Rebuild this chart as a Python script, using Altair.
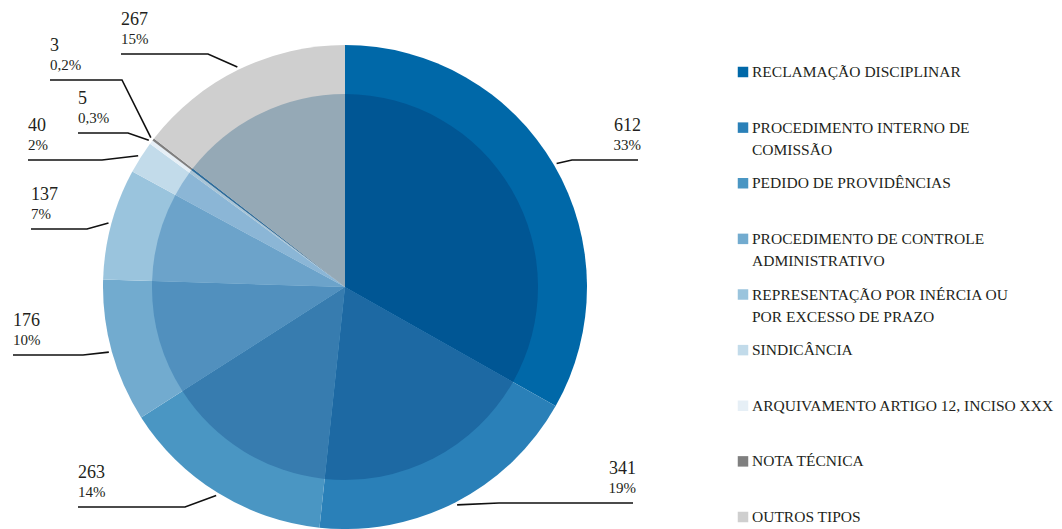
import math
import altair as alt
import pandas as pd

# ---------------- data ----------------
CATEGORIES = [
    "Reclamação Disciplinar",
    "Procedimento Interno de Comissão",
    "Pedido de Providências",
    "Procedimento de Controle Administrativo",
    "Representação por Inércia ou por Excesso de Prazo",
    "Sindicância",
    "Arquivamento Artigo 12, Inciso XXX",
    "Nota Técnica",
    "Outros Tipos",
]
VALUES = [612, 341, 263, 176, 137, 40, 5, 3, 267]
PERCENT_LABELS = ["33%", "19%", "14%", "10%", "7%", "2%", "0,3%", "0,2%", "15%"]
# legend labels as wrapped in the reference (small caps -> upper case)
LEGEND_LABELS = [
    "Reclamação Disciplinar",
    "Procedimento Interno de\nComissão",
    "Pedido de Providências",
    "Procedimento de Controle\nAdministrativo",
    "Representação por Inércia ou\npor Excesso de Prazo",
    "Sindicância",
    "Arquivamento Artigo 12, Inciso XXX",
    "Nota Técnica",
    "Outros Tipos",
]

# ---------------- styles ----------------
OUTER_COLORS = ["#0068a8", "#2a80b8", "#4a96c3", "#72abcf", "#9ac4dd",
                "#c2dbea", "#e6eff6", "#7f7f7f", "#cfcfcf"]
INNER_COLORS = ["#005694", "#1d69a3", "#377caf", "#5190be", "#6ca3ca",
                "#8bb6d6", "#a9c4d6", "#2a6c9e", "#95a9b6"]
SERIF = "Liberation Serif"
TEXT_COLOR = "#231f20"

# ---------------- layout (page pixel coordinates) ----------------
W, H = 1046, 521
OFF = 8
CX, CY = 345, 287
R_OUT, R_IN = 242, 193
LABEL_SIDE = ["right", "right", "left", "left", "left", "left", "left", "left", "left"]
LABEL_LINE_Y = [160, 503, 507, 355, 229, 160, 133, 80, 54]
LABEL_ELBOW_X = [572, 499, 185, 83, 87, 102, 128, 122, 208]
LABEL_END_X = [638, 633, 78, 13, 31, 28, 78, 50, 121]
LEGEND_TOP, LEGEND_BOTTOM = 72, 517
LEGEND_SYMBOL_X, LEGEND_TEXT_X = 743, 752

# ---------------- tables ----------------
slices = pd.DataFrame({
    "idx": list(range(len(CATEGORIES))),
    "cat": CATEGORIES,
    "value": VALUES,
})

total = float(sum(VALUES))
line_rows, text_rows = [], []
cum = 0.0
for i, v in enumerate(VALUES):
    mid = (cum + v / 2.0) / total * 2 * math.pi
    cum += v
    sx = CX + (R_OUT + 3) * math.sin(mid)
    sy = CY - (R_OUT + 3) * math.cos(mid)
    pts = [(sx, sy), (LABEL_ELBOW_X[i], LABEL_LINE_Y[i]), (LABEL_END_X[i], LABEL_LINE_Y[i])]
    for k, (px, py) in enumerate(pts):
        line_rows.append({"slice": i, "seq": k, "x": px, "y": py})
    tx = LABEL_END_X[i] + (3 if LABEL_SIDE[i] == "right" else 0)
    text_rows.append({"slice": i, "side": LABEL_SIDE[i], "x": tx,
                      "y_num": LABEL_LINE_Y[i] - 29, "y_pct": LABEL_LINE_Y[i] - 10,
                      "num": str(VALUES[i]), "pct": PERCENT_LABELS[i]})
lines = pd.DataFrame(line_rows)
texts = pd.DataFrame(text_rows)

legend = pd.DataFrame({
    "cat": CATEGORIES,
    "label": [s.upper() for s in LEGEND_LABELS],
})

XS = alt.Scale(domain=[OFF, OFF + W], nice=False, zero=False)
YS = alt.Scale(domain=[OFF, OFF + H], nice=False, zero=False, reverse=True)

outer = alt.Chart(slices).mark_arc(radius=R_OUT).encode(
    theta=alt.Theta("value:Q", stack=True),
    color=alt.Color("cat:N", scale=alt.Scale(domain=CATEGORIES, range=OUTER_COLORS), legend=None),
    order=alt.Order("idx:Q"),
    x=alt.value(CX - OFF),
    y=alt.value(CY - OFF),
)
inner = alt.Chart(slices).mark_arc(radius=R_IN).encode(
    theta=alt.Theta("value:Q", stack=True),
    color=alt.Color("cat:N", scale=alt.Scale(domain=CATEGORIES, range=INNER_COLORS), legend=None),
    order=alt.Order("idx:Q"),
    x=alt.value(CX - OFF),
    y=alt.value(CY - OFF),
)

leaders = alt.Chart(lines).mark_line(color="#111111", strokeWidth=1.6).encode(
    x=alt.X("x:Q", scale=XS, axis=None),
    y=alt.Y("y:Q", scale=YS, axis=None),
    detail="slice:N",
    order="seq:Q",
)

def label_layer(side, align):
    d = texts[texts["side"] == side]
    num = alt.Chart(d).mark_text(align=align, baseline="alphabetic", font=SERIF,
                                 fontSize=18, color=TEXT_COLOR).encode(
        x=alt.X("x:Q", scale=XS, axis=None),
        y=alt.Y("y_num:Q", scale=YS, axis=None),
        text="num:N",
    )
    pct = alt.Chart(d).mark_text(align=align, baseline="alphabetic", font=SERIF,
                                 fontSize=15, color=TEXT_COLOR).encode(
        x=alt.X("x:Q", scale=XS, axis=None),
        y=alt.Y("y_pct:Q", scale=YS, axis=None),
        text="pct:N",
    )
    return [num, pct]

LY = alt.Scale(type="point", domain=CATEGORIES, range=[LEGEND_TOP - OFF, LEGEND_BOTTOM - OFF], padding=0)

leg_sym = alt.Chart(legend).mark_square(size=110, opacity=1).encode(
    x=alt.value(LEGEND_SYMBOL_X - OFF),
    y=alt.Y("cat:N", scale=LY, axis=None, sort=CATEGORIES),
    color=alt.Color("cat:N", scale=alt.Scale(domain=CATEGORIES, range=OUTER_COLORS), legend=None),
)
leg_txt = alt.Chart(legend).mark_text(align="left", baseline="alphabetic", font=SERIF,
                                      fontSize=15.5, lineBreak="\n", lineHeight=22, dy=5,
                                      color=TEXT_COLOR).encode(
    x=alt.value(LEGEND_TEXT_X - OFF),
    y=alt.Y("cat:N", scale=LY, axis=None, sort=CATEGORIES),
    text="label:N",
)

chart = alt.layer(
    outer, inner, leaders, *label_layer("left", "left"), *label_layer("right", "right"),
    leg_sym, leg_txt,
).resolve_scale(
    color="independent", y="independent", x="independent"
).properties(
    width=W, height=H, padding=0, autosize=alt.AutoSizeParams(type="none"),
    background="white",
).configure_view(stroke=None)

chart.save("out.html", embed_options={"renderer": "svg", "actions": False})
